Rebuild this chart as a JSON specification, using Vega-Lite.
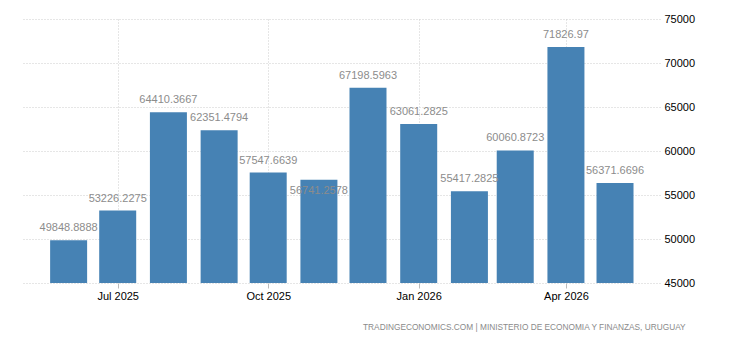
{
  "$schema": "https://vega.github.io/schema/vega-lite/v6.json",
  "width": 638,
  "height": 264,
  "autosize": "none",
  "padding": {"left": 22, "top": 19, "right": 70, "bottom": 57},
  "background": "white",
  "config": {
    "view": {"stroke": null},
    "font": "Liberation Sans"
  },
  "title": {
    "text": "TRADINGECONOMICS.COM  |  MINISTERIO DE ECONOMIA Y FINANZAS, URUGUAY",
    "orient": "bottom",
    "anchor": "end",
    "fontSize": 8.3,
    "fontWeight": "normal",
    "color": "#8a8a8a",
    "font": "Liberation Sans",
    "offset": 22,
    "dx": -9
  },
  "data": {
    "values": [
      {"date": "2025-06-01", "value": 49848.8888, "label": "49848.8888"},
      {"date": "2025-07-01", "value": 53226.2275, "label": "53226.2275"},
      {"date": "2025-08-01", "value": 64410.3667, "label": "64410.3667"},
      {"date": "2025-09-01", "value": 62351.4794, "label": "62351.4794"},
      {"date": "2025-10-01", "value": 57547.6639, "label": "57547.6639"},
      {"date": "2025-11-01", "value": 56741.2578, "label": "56741.2578"},
      {"date": "2025-12-01", "value": 67198.5963, "label": "67198.5963"},
      {"date": "2026-01-01", "value": 63061.2825, "label": "63061.2825"},
      {"date": "2026-02-01", "value": 55417.2825, "label": "55417.2825"},
      {"date": "2026-03-01", "value": 60060.8723, "label": "60060.8723"},
      {"date": "2026-04-01", "value": 71826.97, "label": "71826.97"},
      {"date": "2026-05-01", "value": 56371.6696, "label": "56371.6696"}
    ]
  },
  "encoding": {
    "x": {
      "field": "date",
      "type": "temporal",
      "scale": {
        "type": "utc",
        "padding": 0,
        "nice": false,
        "domain": [
          {"year": 2025, "month": 5, "date": 3, "hours": 12, "utc": true},
          {"year": 2026, "month": 5, "date": 28, "hours": 12, "utc": true}
        ]
      },
      "axis": {
        "title": null,
        "values": [
          {"year": 2025, "month": 7, "date": 1, "utc": true},
          {"year": 2025, "month": 10, "date": 1, "utc": true},
          {"year": 2026, "month": 1, "date": 1, "utc": true},
          {"year": 2026, "month": 4, "date": 1, "utc": true}
        ],
        "labelExpr": "utcFormat(datum.value, '%b %Y')",
        "domain": false,
        "ticks": true,
        "tickColor": "#bbbbbb",
        "tickSize": 5,
        "labelFontSize": 11,
        "labelColor": "#000000",
        "labelPadding": 2,
        "grid": true,
        "gridColor": "#cccccc",
        "gridDash": [1, 2],
        "labelFont": "Liberation Sans"
      }
    },
    "y": {
      "field": "value",
      "type": "quantitative",
      "scale": {"domain": [45000, 75000], "zero": false, "nice": false},
      "axis": {
        "title": null,
        "orient": "right",
        "values": [45000, 50000, 55000, 60000, 65000, 70000, 75000],
        "format": "d",
        "domain": false,
        "ticks": false,
        "labelPadding": 4,
        "labelFontSize": 11,
        "labelColor": "#000000",
        "labelFont": "Liberation Sans",
        "grid": true,
        "gridColor": "#cccccc",
        "gridDash": [1, 2]
      }
    }
  },
  "layer": [
    {
      "mark": {"type": "bar", "width": 37, "color": "#4682b4", "clip": true}
    },
    {
      "transform": [{"filter": "datum.label != '56741.2578'"}],
      "mark": {"type": "text", "baseline": "middle", "dy": -12, "fontSize": 11, "color": "#8c8c8c", "font": "Liberation Sans"},
      "encoding": {"text": {"field": "label"}}
    },
    {
      "transform": [{"filter": "datum.label == '56741.2578'"}],
      "mark": {"type": "text", "baseline": "middle", "dy": 11, "fontSize": 11, "color": "#8c8c8c", "font": "Liberation Sans"},
      "encoding": {"text": {"field": "label"}}
    }
  ]
}
